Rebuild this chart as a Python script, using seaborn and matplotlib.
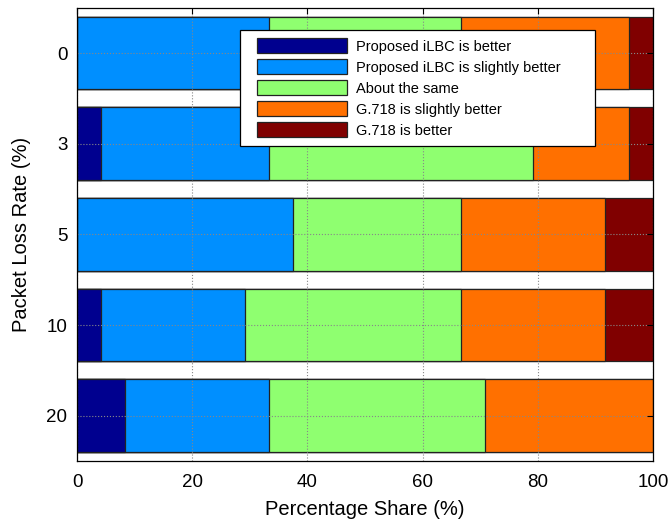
import matplotlib
matplotlib.use("Agg")
import matplotlib.pyplot as plt
from matplotlib.patches import Rectangle
from matplotlib.container import BarContainer
from matplotlib.legend_handler import HandlerPatch
import seaborn as sns
import pandas as pd
import numpy as np

loss_rates = ["0", "3", "5", "10", "20"]
series_names = [
    "Proposed iLBC is better",
    "Proposed iLBC is slightly better",
    "About the same",
    "G.718 is slightly better",
    "G.718 is better",
]
iLBC_better = [0.0, 4.17, 0.0, 4.17, 8.33]
iLBC_slightly = [33.33, 29.17, 37.5, 25.0, 25.0]
same = [33.33, 45.83, 29.17, 37.5, 37.5]
g718_slightly = [29.17, 16.67, 25.0, 25.0, 29.17]
g718_better = [4.17, 4.17, 8.33, 8.33, 0.0]

colors = ["#00008F", "#008FFF", "#8FFF70", "#FF7000", "#800000"]

sns.set_style("white")
plt.rcParams["font.family"] = ["Liberation Sans", "DejaVu Sans"]
plt.rcParams["text.color"] = "black"
plt.rcParams["axes.labelcolor"] = "black"
plt.rcParams["xtick.color"] = "black"
plt.rcParams["ytick.color"] = "black"

series = [iLBC_better, iLBC_slightly, same, g718_slightly, g718_better]
cum = np.cumsum(np.array(series), axis=0)

fig = plt.figure(figsize=(6.71, 5.23), dpi=100)
ax = fig.add_axes([0.1148, 0.1185, 0.8584, 0.8668])

# draw from the last cumulative to the first so segments stack
for i in reversed(range(len(series))):
    df = pd.DataFrame({"rate": loss_rates, "value": cum[i]})
    sns.barplot(data=df, x="value", y="rate", order=loss_rates, orient="h",
                color=colors[i], saturation=1, edgecolor="#222222",
                linewidth=0.9, width=0.8, ax=ax, label=series_names[i])

ax.set_xlim(0, 100)
ax.set_ylim(4.5, -0.5)
ax.set_xticks([0, 20, 40, 60, 80, 100])
ax.set_xlabel("Percentage Share (%)", fontsize=14.5, labelpad=7)
ax.set_ylabel("Packet Loss Rate (%)", fontsize=14.5, labelpad=11)
ax.tick_params(axis="both", labelsize=13.5, direction="in", length=4,
               top=True, right=True, width=0.8, colors="black")
ax.tick_params(axis="x", pad=9)
ax.tick_params(axis="y", pad=7)
ax.grid(True, linestyle=":", color="#888888", linewidth=0.8)
ax.set_axisbelow(False)
for sp in ax.spines.values():
    sp.set_color("black")
    sp.set_linewidth(0.9)
    sp.set_zorder(5)

OFFSET = 6.5  # points


def make_patch(legend, orig_handle, xdescent, ydescent, width, height, fontsize):
    return Rectangle((-xdescent + OFFSET, -ydescent), width - OFFSET, height)


def update_from_first(legend_handle, orig_handle):
    legend_handle.update_from(orig_handle.patches[0])


handles, labels = ax.get_legend_handles_labels()
order = [labels.index(n) for n in series_names]
leg = ax.legend([handles[k] for k in order], [labels[k] for k in order],
                loc="upper left", bbox_to_anchor=(0.283, 0.0, 0.616, 0.951),
                mode="expand",
                borderaxespad=0, fontsize=10.5, frameon=True, fancybox=False,
                edgecolor="black", framealpha=1, handlelength=6.8,
                handleheight=1.25, labelspacing=0.37, borderpad=0.55,
                handletextpad=0.6,
                handler_map={BarContainer: HandlerPatch(patch_func=make_patch,
                                                        update_func=update_from_first)})
leg.get_frame().set_linewidth(0.9)
leg.set_zorder(10)

fig.savefig("out.png", dpi=100)
